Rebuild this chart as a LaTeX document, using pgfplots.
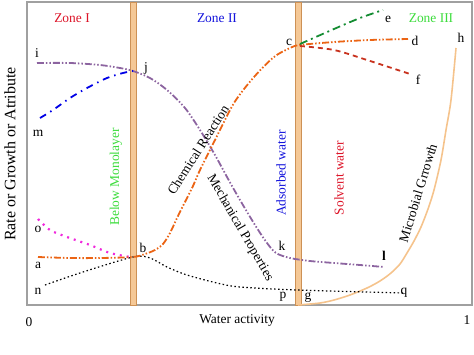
\documentclass[border=0pt]{standalone}
\usepackage{fontspec}
\setmainfont{Liberation Serif}
\usepackage{pgfplots}
\pgfplotsset{compat=1.18}
\definecolor{frame}{RGB}{160,160,160}
\definecolor{purp}{RGB}{140,100,160}
\definecolor{blu}{RGB}{0,0,230}
\definecolor{orng}{RGB}{235,100,20}
\definecolor{grn}{RGB}{20,140,50}
\definecolor{dred}{RGB}{200,50,30}
\definecolor{micro}{RGB}{245,195,140}
\definecolor{mag}{RGB}{240,40,220}
\definecolor{zred}{RGB}{220,20,40}
\definecolor{zblue}{RGB}{20,20,220}
\definecolor{zgreen}{RGB}{60,220,60}
\definecolor{barfill}{RGB}{245,200,150}
\definecolor{barline}{RGB}{205,145,85}
\begin{document}
\begin{tikzpicture}[font=\fontsize{13.5}{16}\selectfont]
\begin{axis}[
  scale only axis, width=445bp, height=303bp,
  xmin=27, xmax=472, ymin=2, ymax=305, y dir=reverse,
  ticks=none, clip=false,
  axis line style={frame, line width=1.6pt},
]
\coordinate (BL) at (axis cs:0,355);
\coordinate (TR) at (axis cs:474,0);
% vertical zone bars
\addplot[fill=barfill, draw=barline, line width=0.7pt] coordinates {(130,2) (136,2) (136,305) (130,305)} --cycle;
\addplot[fill=barfill, draw=barline, line width=0.7pt] coordinates {(295,2) (301,2) (301,305) (295,305)} --cycle;
% microbial growth
\addplot[micro, line width=1.6pt, smooth, tension=0.5] coordinates {(298,305) (320,303) (334,300) (350,295) (367,288) (380,281) (391,273) (400,264) (407,253) (414,241) (421,227) (428,209) (434,190) (441,160) (446,130) (451,100) (456,48)};
% black dotted n-b-p-q
\addplot[black, line width=1.2pt, dash pattern=on 1.5pt off 2.5pt, smooth, tension=0.5] coordinates {(45,285) (83,272) (133,257) (150,258) (167,267) (187,275) (217,283) (240,287) (297,290) (404,293)};
% magenta dotted o-b
\addplot[mag, line width=2.2pt, dash pattern=on 2pt off 5pt, smooth, tension=0.5] coordinates {(38,219) (50,230) (67,237) (90,245) (110,253) (130,257)};
% purple i-j-k-l
\addplot[purp, line width=1.8pt, dash pattern=on 7pt off 2pt on 1.5pt off 2pt on 1.5pt off 2pt, smooth, tension=0.5] coordinates {(37,63) (70,63) (100,65) (120,68) (133,71) (150,78) (167,90) (185,108) (200,130) (215,155) (227,177) (240,200) (255,225) (267,243) (276,253) (290,258) (310,261) (334,263) (360,265) (384,267)};
% blue m-j
\addplot[blu, line width=1.8pt, dash pattern=on 7pt off 5pt on 1.5pt off 5pt, smooth, tension=0.5] coordinates {(40,118) (53,110) (70,98) (87,88) (107,78) (123,73) (133,71)};
% orange a-b-c-d
\addplot[orng, line width=1.8pt, dash pattern=on 7pt off 2pt on 1.5pt off 2pt on 1.5pt off 2pt, smooth, tension=0.5] coordinates {(38,257) (70,258) (100,258) (133,257) (145,254) (155,250) (163,244) (170,233) (178,216) (186,200) (193,186) (200,170) (215,140) (234,103) (254,77) (274,57) (290,48) (300,45) (334,42) (370,40) (408,39)};
% green c-e
\addplot[grn, line width=1.8pt, dash pattern=on 8pt off 4pt on 2pt off 4pt, smooth, tension=0.5] coordinates {(300,44) (334,29) (360,18) (383,10)};
% red dashed c-f
\addplot[dred, line width=1.8pt, dash pattern=on 5pt off 4pt, smooth, tension=0.5] coordinates {(300,46) (334,50) (367,60) (410,74)};
% zone labels
\node[zred] at (axis cs:72,18) {Zone I};
\node[zblue] at (axis cs:217,18) {Zone II};
\node[zgreen] at (axis cs:431,18) {Zone III};
% point letters
\node at (axis cs:37,53) {i};
\node at (axis cs:146,68) {j};
\node at (axis cs:38,133) {m};
\node at (axis cs:289,42) {c};
\node at (axis cs:388,19) {e};
\node at (axis cs:415,41) {d};
\node at (axis cs:461,38) {h};
\node at (axis cs:418,80) {f};
\node at (axis cs:282,246) {k};
\node at (axis cs:384,256) {\textbf{l}};
\node at (axis cs:38,229) {o};
\node at (axis cs:38,265) {a};
\node at (axis cs:38,291) {n};
\node at (axis cs:143,248) {b};
\node at (axis cs:283,297) {p};
\node at (axis cs:308,297) {g};
\node at (axis cs:404,293) {q};
% rotated annotations
\node[zgreen, rotate=90] at (axis cs:116,177) {Below Monolayer};
\node[zblue, rotate=90] at (axis cs:281,173) {Adsorbed water};
\node[zred, rotate=90] at (axis cs:339,178) {Solvent water};
\node[rotate=57.5] at (axis cs:198,150) {Chemical Reaction};
\node[rotate=-60] at (axis cs:240,228) {Mechanical Properties};
\node[rotate=73] at (axis cs:418,193) {Microbial Grrowth};
% axis labels
\node at (axis cs:29,322) {0};
\node at (axis cs:467,320) {1};
\node at (axis cs:237,320) {Water activity};
\node[rotate=90, font=\fontsize{16}{18}\selectfont] at (axis cs:10,154) {Rate or Growth or Atribute};
\end{axis}
\pgfresetboundingbox
\useasboundingbox (BL) rectangle (TR);
\end{tikzpicture}
\end{document}
